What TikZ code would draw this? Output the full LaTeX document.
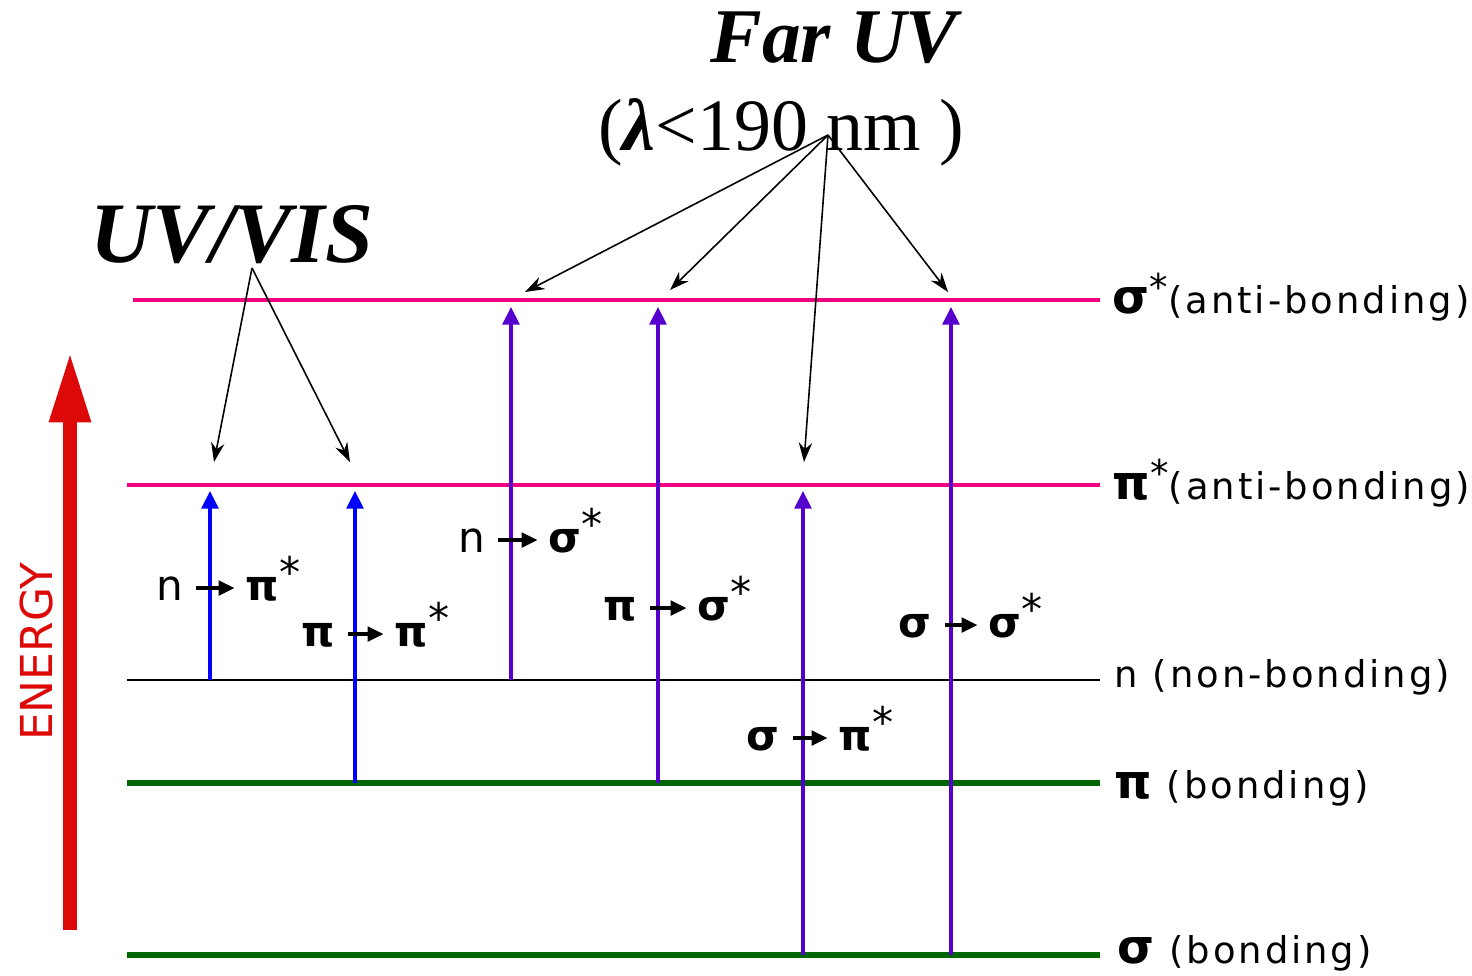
\documentclass[tikz,border=0pt]{standalone}
\usepackage{fontspec}
\setmainfont{Liberation Serif}
\newfontfamily\lab{DejaVu Sans}[LetterSpace=8]
\newfontfamily\labn{DejaVu Sans}
\usetikzlibrary{arrows.meta}
\definecolor{mag}{RGB}{240,0,128}
\definecolor{dgreen}{RGB}{0,102,0}
\definecolor{vblue}{RGB}{0,0,255}
\definecolor{vpurp}{RGB}{85,0,204}
\definecolor{ered}{RGB}{221,8,8}
\newcommand{\gkr}[1]{{\bfseries\fontsize{13.5pt}{14pt}\selectfont #1}}
\newcommand{\gkt}[1]{{\bfseries #1}}
\newcommand{\str}{\raisebox{0.35em}{*}}
\newcommand{\stt}{\raisebox{0.3em}{*}}
\begin{document}
\begin{tikzpicture}[x=0.01cm,y=-0.01cm,
  antib/.style={mag, line width=0.9pt},
  nonb/.style={black, line width=0.6pt},
  bond/.style={dgreen, line width=1.5pt},
  excb/.style={vblue, line width=0.9pt, -{Triangle[length=5pt,width=4.8pt]}},
  excp/.style={vpurp, line width=0.9pt, -{Triangle[length=5pt,width=4.8pt]}},
  ptr/.style={black, line width=0.45pt, -{Stealth[length=5.5pt,width=3.8pt]}},
  rlab/.style={font=\lab\fontsize{10.5pt}{12pt}\selectfont, inner sep=0pt, anchor=base west},
  tlab/.style={font=\labn\fontsize{12pt}{14pt}\selectfont, inner sep=0pt, anchor=base west, text height=6.8pt, text depth=0pt},
  tarr/.style={black, line width=0.9pt, -{Triangle[length=4.5pt,width=4.2pt]}, shorten <=3.5pt, shorten >=3pt}]
\useasboundingbox (0,0) rectangle (1472,975);

% energy levels
\coordinate (ssl) at (133,300); \coordinate (ssr) at (1100,300);
\coordinate (psl) at (127,485); \coordinate (psr) at (1100,485);
\coordinate (nl) at (127,680);  \coordinate (nr) at (1100,680);
\coordinate (pl) at (127,783);  \coordinate (pr) at (1100,783);
\coordinate (sl) at (127,955);  \coordinate (sr) at (1100,955);
\draw[antib] (ssl) -- (ssr);
\draw[antib] (psl) -- (psr);
\draw[nonb] (nl) -- (nr);
\draw[bond] (pl) -- (pr);
\draw[bond] (sl) -- (sr);

% level labels
\node[rlab] (lss) at (1112,313) {\gkr{σ}\str(anti-bonding)};
\node[rlab] (lps) at (1112,499) {\gkr{π}\str(anti-bonding)};
\node[rlab] (ln) at (1114,687) {n (non-bonding)};
\node[rlab] (lp) at (1114,798) {\gkr{π} (bonding)};
\node[rlab] (ls) at (1117,963) {\gkr{σ} (bonding)};

% transitions
\coordinate (a1s) at (210,680); \coordinate (a1e) at (210,491);
\coordinate (a2s) at (355,783); \coordinate (a2e) at (355,491);
\coordinate (a3s) at (511,680); \coordinate (a3e) at (511,307);
\coordinate (a4s) at (658,783); \coordinate (a4e) at (658,307);
\coordinate (a5s) at (803,955); \coordinate (a5e) at (803,491);
\coordinate (a6s) at (951,955); \coordinate (a6e) at (951,307);
\draw[excb] (a1s) -- (a1e);
\draw[excb] (a2s) -- (a2e);
\draw[excp] (a3s) -- (a3e);
\draw[excp] (a4s) -- (a4e);
\draw[excp] (a5s) -- (a5e);
\draw[excp] (a6s) -- (a6e);

% transition labels
\node[tlab] (f1) at (156,600) {n};
\node[tlab] (g1) at (245,600) {\gkt{π}\stt};
\draw[tarr] (f1) -- (g1);
\node[tlab] (f2) at (301,646) {\gkt{π}};
\node[tlab] (g2) at (394,646) {\gkt{π}\stt};
\draw[tarr] (f2) -- (g2);
\node[tlab] (f3) at (458,552) {n};
\node[tlab] (g3) at (548,552) {\gkt{σ}\stt};
\draw[tarr] (f3) -- (g3);
\node[tlab] (f4) at (603,620) {\gkt{π}};
\node[tlab] (g4) at (697,620) {\gkt{σ}\stt};
\draw[tarr] (f4) -- (g4);
\node[tlab] (f5) at (746,750) {\gkt{σ}};
\node[tlab] (g5) at (838,750) {\gkt{π}\stt};
\draw[tarr] (f5) -- (g5);
\node[tlab] (f6) at (898,637) {\gkt{σ}};
\node[tlab] (g6) at (988,637) {\gkt{σ}\stt};
\draw[tarr] (f6) -- (g6);

% energy axis
\coordinate (eb) at (70,930); \coordinate (et) at (70,352);
\draw[ered, line width=3.7pt, -{Triangle[length=20pt,width=11pt]}] (eb) -- (et);
\node[font=\labn\fontsize{12.5pt}{14pt}\selectfont, text=ered, rotate=90, inner sep=0pt] (energy) at (36,652) {ENERGY};

% titles
\node[font=\bfseries\itshape\fontsize{24.5pt}{28pt}\selectfont, inner sep=0pt, anchor=base] (uvvis) at (232,262) {UV/VIS};
\node[font=\bfseries\itshape\fontsize{22pt}{26pt}\selectfont, inner sep=0pt, anchor=base] (faruv) at (834,62) {Far UV};
\node[font=\fontsize{21pt}{24pt}\selectfont, inner sep=0pt, anchor=base] (lam) at (781,150) {(\textbf{\textit{λ}}<190 nm )};

% pointers
\coordinate (uvap) at (252,268);
\coordinate (uvt1) at (214,462);
\coordinate (uvt2) at (350,462);
\draw[ptr] (uvap) -- (uvt1);
\draw[ptr] (uvap) -- (uvt2);
\coordinate (fuap) at (828,135);
\coordinate (fut1) at (525,292);
\coordinate (fut2) at (670,290);
\coordinate (fut3) at (804,462);
\coordinate (fut4) at (948,292);
\draw[ptr] (fuap) -- (fut1);
\draw[ptr] (fuap) -- (fut2);
\draw[ptr] (fuap) -- (fut3);
\draw[ptr] (fuap) -- (fut4);
\end{tikzpicture}
\end{document}
